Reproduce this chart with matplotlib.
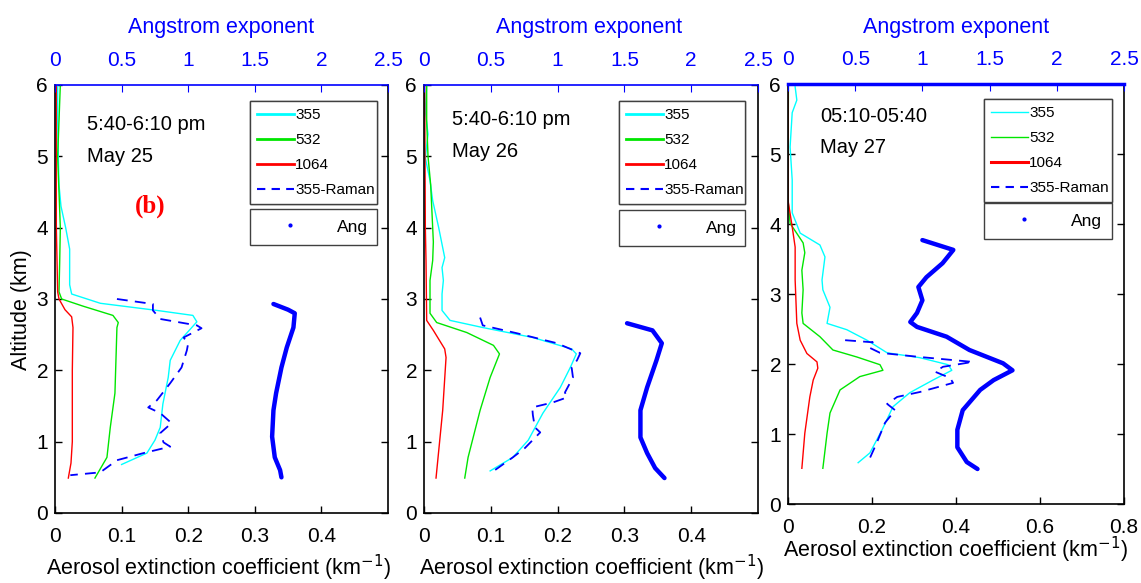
import matplotlib
matplotlib.use("Agg")
import matplotlib.pyplot as plt
from matplotlib.lines import Line2D

plt.rcParams['font.family'] = ['Liberation Sans', 'DejaVu Sans']

W, H = 1141, 583

# ---------------- data (altitude km, value) ----------------
# Panel 1: May 25
p1_355_alt = [6.0, 5.5, 5.0, 4.6, 4.3, 4.0, 3.7, 3.4, 3.2, 3.07, 2.94, 2.84, 2.77, 2.68, 2.42, 2.14, 1.9, 1.53, 1.2, 1.02, 0.84, 0.68]
p1_355_ext = [0.004, 0.004, 0.005, 0.006, 0.009, 0.016, 0.022, 0.022, 0.022, 0.025, 0.068, 0.153, 0.207, 0.213, 0.188, 0.173, 0.17, 0.162, 0.158, 0.15, 0.138, 0.10]
p1_532_alt = [6.0, 5.5, 5.0, 4.5, 4.0, 3.5, 3.1, 3.0, 2.9, 2.77, 2.67, 2.6, 1.68, 1.2, 0.78, 0.49]
p1_532_ext = [0.008, 0.006, 0.004, 0.006, 0.008, 0.007, 0.006, 0.01, 0.042, 0.087, 0.095, 0.093, 0.09, 0.083, 0.078, 0.06]
p1_1064_alt = [6.0, 4.0, 3.1, 3.0, 2.85, 2.75, 2.6, 2.0, 1.0, 0.7, 0.49]
p1_1064_ext = [0.002, 0.002, 0.004, 0.006, 0.015, 0.025, 0.027, 0.026, 0.026, 0.024, 0.02]
p1_ram_alt = [3.0, 2.93, 2.84, 2.72, 2.63, 2.59, 2.46, 2.38, 2.28, 2.04, 1.82, 1.58, 1.48, 1.4, 1.26, 1.12, 0.99, 0.93, 0.84, 0.74, 0.57, 0.53]
p1_ram_ext = [0.093, 0.147, 0.147, 0.158, 0.213, 0.22, 0.193, 0.2, 0.198, 0.19, 0.173, 0.153, 0.14, 0.158, 0.175, 0.158, 0.163, 0.173, 0.133, 0.093, 0.068, 0.023]
p1_ang_alt = [2.93, 2.85, 2.8, 2.6, 2.32, 2.04, 1.68, 1.44, 1.07, 0.78, 0.6, 0.5]
p1_ang = [1.64, 1.75, 1.80, 1.79, 1.74, 1.70, 1.66, 1.64, 1.63, 1.65, 1.69, 1.70]

# Panel 2: May 26
p2_355_alt = [6.0, 5.64, 5.31, 4.98, 4.66, 4.38, 4.0, 3.58, 3.44, 3.26, 3.07, 2.84, 2.7, 2.6, 2.46, 2.3, 2.23, 2.04, 1.76, 1.4, 1.02, 0.78, 0.59]
p2_355_ext = [0.004, 0.002, 0.006, 0.002, 0.009, 0.013, 0.022, 0.031, 0.027, 0.029, 0.027, 0.027, 0.039, 0.088, 0.163, 0.221, 0.228, 0.219, 0.204, 0.178, 0.156, 0.133, 0.099]
p2_532_alt = [6.0, 5.5, 5.0, 4.6, 4.2, 3.8, 3.54, 3.26, 2.8, 2.67, 2.53, 2.35, 2.23, 1.9, 1.44, 0.78, 0.49]
p2_532_ext = [0.004, 0.004, 0.006, 0.01, 0.012, 0.014, 0.013, 0.009, 0.009, 0.019, 0.064, 0.104, 0.113, 0.099, 0.084, 0.066, 0.061]
p2_1064_alt = [6.0, 4.0, 3.54, 2.7, 2.56, 2.3, 2.18, 1.44, 0.49]
p2_1064_ext = [0.001, 0.002, 0.003, 0.004, 0.014, 0.031, 0.033, 0.028, 0.018]
p2_ram_alt = [2.74, 2.63, 2.52, 2.38, 2.24, 2.14, 2.04, 1.9, 1.69, 1.62, 1.55, 1.48, 1.37, 1.2, 1.13, 0.91, 0.78, 0.6, 0.57]
p2_ram_ext = [0.084, 0.088, 0.139, 0.199, 0.234, 0.229, 0.221, 0.223, 0.211, 0.214, 0.193, 0.162, 0.163, 0.166, 0.174, 0.151, 0.133, 0.106, 0.105]
p2_ang_alt = [2.66, 2.56, 2.38, 2.14, 1.76, 1.44, 1.06, 0.84, 0.63, 0.49]
p2_ang = [1.52, 1.71, 1.78, 1.74, 1.67, 1.62, 1.62, 1.67, 1.73, 1.80]

# Panel 3: May 27
p3_355_alt = [5.96, 5.77, 5.59, 5.1, 4.63, 4.16, 3.87, 3.7, 3.53, 3.2, 3.06, 2.81, 2.58, 2.49, 2.34, 2.16, 2.09, 1.99, 1.91, 1.77, 1.59, 1.39, 1.06, 0.73, 0.59]
p3_355_ext = [0.017, 0.021, 0.01, 0.005, 0.01, 0.01, 0.029, 0.076, 0.088, 0.081, 0.083, 0.1, 0.093, 0.14, 0.188, 0.236, 0.314, 0.381, 0.39, 0.345, 0.29, 0.25, 0.224, 0.195, 0.167]
p3_532_alt = [6.0, 4.34, 4.01, 3.73, 3.59, 3.34, 3.06, 2.73, 2.58, 2.39, 2.2, 2.1, 1.99, 1.91, 1.82, 1.63, 1.3, 1.01, 0.51]
p3_532_ext = [0.001, 0.0, 0.005, 0.036, 0.04, 0.033, 0.036, 0.033, 0.036, 0.076, 0.107, 0.164, 0.219, 0.226, 0.171, 0.124, 0.1, 0.093, 0.083]
p3_1064_alt = [6.0, 4.34, 3.96, 3.67, 3.2, 2.58, 2.34, 2.15, 2.03, 1.94, 1.77, 1.53, 1.01, 0.51]
p3_1064_ext = [0.0, 0.0, 0.01, 0.017, 0.017, 0.021, 0.029, 0.045, 0.069, 0.071, 0.06, 0.052, 0.04, 0.033]
p3_ram_alt = [2.34, 2.31, 2.3, 2.23, 2.16, 2.1, 2.03, 1.96, 1.89, 1.8, 1.73, 1.6, 1.53, 1.43, 1.34, 1.16, 0.87, 0.59]
p3_ram_ext = [0.136, 0.202, 0.195, 0.195, 0.219, 0.314, 0.44, 0.369, 0.35, 0.386, 0.393, 0.314, 0.26, 0.236, 0.255, 0.231, 0.211, 0.19]
p3_ang_alt = [3.77, 3.63, 3.44, 3.24, 3.1, 2.91, 2.73, 2.6, 2.53, 2.39, 2.2, 2.01, 1.91, 1.77, 1.63, 1.34, 1.06, 0.81, 0.6, 0.5]
p3_ang = [1.0, 1.23, 1.15, 1.03, 0.97, 1.0, 0.96, 0.91, 0.96, 1.18, 1.35, 1.6, 1.67, 1.53, 1.43, 1.30, 1.26, 1.26, 1.33, 1.41]

time_labels = ["5:40-6:10 pm", "5:40-6:10 pm", "05:10-05:40"]
date_labels = ["May 25", "May 26", "May 27"]
legend_labels = ["355", "532", "1064", "355-Raman"]
ang_label = "Ang"
ext_ticks = [[0, 0.1, 0.2, 0.3, 0.4], [0, 0.1, 0.2, 0.3, 0.4], [0, 0.2, 0.4, 0.6, 0.8]]
ext_ticklabels = [["0", "0.1", "0.2", "0.3", "0.4"], ["0", "0.1", "0.2", "0.3", "0.4"], ["0", "0.2", "0.4", "0.6", "0.8"]]
ext_max = [0.5, 0.5, 0.8]
ang_ticks = [0, 0.5, 1, 1.5, 2, 2.5]
ang_ticklabels = ["0", "0.5", "1", "1.5", "2", "2.5"]
alt_ticks = [0, 1, 2, 3, 4, 5, 6]

panels = [
    dict(c355=(p1_355_ext, p1_355_alt), c532=(p1_532_ext, p1_532_alt), c1064=(p1_1064_ext, p1_1064_alt),
         ram=(p1_ram_ext, p1_ram_alt), ang=(p1_ang, p1_ang_alt)),
    dict(c355=(p2_355_ext, p2_355_alt), c532=(p2_532_ext, p2_532_alt), c1064=(p2_1064_ext, p2_1064_alt),
         ram=(p2_ram_ext, p2_ram_alt), ang=(p2_ang, p2_ang_alt)),
    dict(c355=(p3_355_ext, p3_355_alt), c532=(p3_532_ext, p3_532_alt), c1064=(p3_1064_ext, p3_1064_alt),
         ram=(p3_ram_ext, p3_ram_alt), ang=(p3_ang, p3_ang_alt)),
]

# ---------------- layout (pixels) ----------------
boxes = [(55, 388, 85, 513), (424, 758, 85, 513), (788, 1124, 84, 504)]
text_pos = [(87, 130, 162), (452, 125, 157), (820, 122, 153)]
leg_pos = [((250, 101, 127), (250, 209, 127)),
           ((619, 101, 126), (619, 210, 126)),
           ((984, 99, 128), (984, 203, 128))]
xlabel_pos = [(219, 568), (592, 568), (956, 550)]
toplabel_pos = [(221, 27), (589, 27), (956, 27)]

CYAN = (0, 1, 1)
GREEN = (0, 0.9, 0)
RED = (1, 0, 0)
BLUE = (0, 0, 1)

fig = plt.figure(figsize=(W / 100, H / 100), dpi=100)

def fx(px):
    return px / W

def fy(py):
    return 1 - py / H

for i, (p, (l, r, t, b)) in enumerate(zip(panels, boxes)):
    ax = fig.add_axes([fx(l), fy(b), (r - l) / W, (b - t) / H])
    ax.plot(*p['c355'], color=CYAN, lw=1.0)
    ax.plot(*p['c532'], color=GREEN, lw=1.0)
    ax.plot(*p['c1064'], color=RED, lw=1.0)
    ax.plot(*p['ram'], color=BLUE, lw=1.3, ls=(0, (6, 4)))
    ax.set_xlim(0, ext_max[i])
    ax.set_ylim(0, 6)
    ax.set_xticks(ext_ticks[i])
    ax.set_xticklabels(ext_ticklabels[i])
    ax.set_yticks(alt_ticks)
    ax.tick_params(axis='both', direction='in', length=5, labelsize=15, width=1)
    ax.tick_params(axis='x', pad=10)
    ax.tick_params(axis='y', pad=5, right=True)
    ax.spines['top'].set_visible(False)
    for s in ['left', 'right', 'bottom']:
        ax.spines[s].set_linewidth(1.2)

    ax2 = ax.twiny()
    ax2.plot(*p['ang'], color=BLUE, lw=3.2, solid_capstyle='round')
    ax2.set_xlim(0, 2.5)
    ax2.set_ylim(0, 6)
    ax2.set_xticks(ang_ticks)
    ax2.set_xticklabels(ang_ticklabels)
    ax2.tick_params(axis='x', direction='in', length=5, colors=BLUE, labelsize=15, pad=11)
    for s in ['left', 'right', 'bottom']:
        ax2.spines[s].set_visible(False)
    ax2.spines['top'].set_color(BLUE)
    ax2.spines['top'].set_linewidth(2.5 if i == 2 else 1.2)

    fig.text(fx(toplabel_pos[i][0]), fy(toplabel_pos[i][1]), "Angstrom exponent", color=BLUE,
             fontsize=15.5, ha='center', va='center')
    fig.text(fx(xlabel_pos[i][0]), fy(xlabel_pos[i][1]), "Aerosol extinction coefficient (km$^{-1}$)",
             fontsize=15.5, ha='center', va='center')

    tx, ty1, ty2 = text_pos[i]
    fig.text(fx(tx), fy(ty1), time_labels[i], fontsize=14.5, ha='left', va='baseline')
    fig.text(fx(tx), fy(ty2), date_labels[i], fontsize=14.5, ha='left', va='baseline')

    # legends
    lw_leg = [2.0, 2.0, 2.0] if i < 2 else [1.0, 1.0, 2.2]
    handles = [Line2D([], [], color=CYAN, lw=lw_leg[0]),
               Line2D([], [], color=GREEN, lw=lw_leg[1]),
               Line2D([], [], color=RED, lw=lw_leg[2]),
               Line2D([], [], color=BLUE, lw=1.5, ls=(0, (4, 3)))]
    (lx, ly, lw), (ax_, ay_, aw_) = leg_pos[i]
    leg1 = ax.legend(handles, legend_labels, loc='upper left',
                     bbox_to_anchor=(fx(lx), fy(ly), lw / W, 0), bbox_transform=fig.transFigure,
                     mode='expand', fontsize=11, frameon=True, fancybox=False, edgecolor='0.25',
                     framealpha=1, borderpad=0.45, labelspacing=0.72, handlelength=2.4,
                     handletextpad=0.1, borderaxespad=0)
    leg1.get_frame().set_linewidth(1.0)
    ax.add_artist(leg1)
    h_ang = Line2D([], [], color=BLUE, marker='o', ms=2, lw=0)
    leg2 = ax2.legend([h_ang], [ang_label], loc='upper left',
                      bbox_to_anchor=(fx(ax_), fy(ay_), aw_ / W, 0), bbox_transform=fig.transFigure,
                      mode='expand', fontsize=12.5, frameon=True, fancybox=False, edgecolor='0.25',
                      framealpha=1, borderpad=0.6, handlelength=3.4, handletextpad=1.0,
                      borderaxespad=0)
    leg2.get_frame().set_linewidth(1.0)

fig.text(fx(22), fy(310), "Altitude (km)", fontsize=15.5, rotation=90, ha='center', va='center')
fig.text(fx(150), fy(213), "(b)", fontsize=18, color=RED, fontweight='bold',
         family=['Liberation Serif', 'DejaVu Serif'], ha='center', va='baseline')

fig.savefig("out.png", dpi=100)
